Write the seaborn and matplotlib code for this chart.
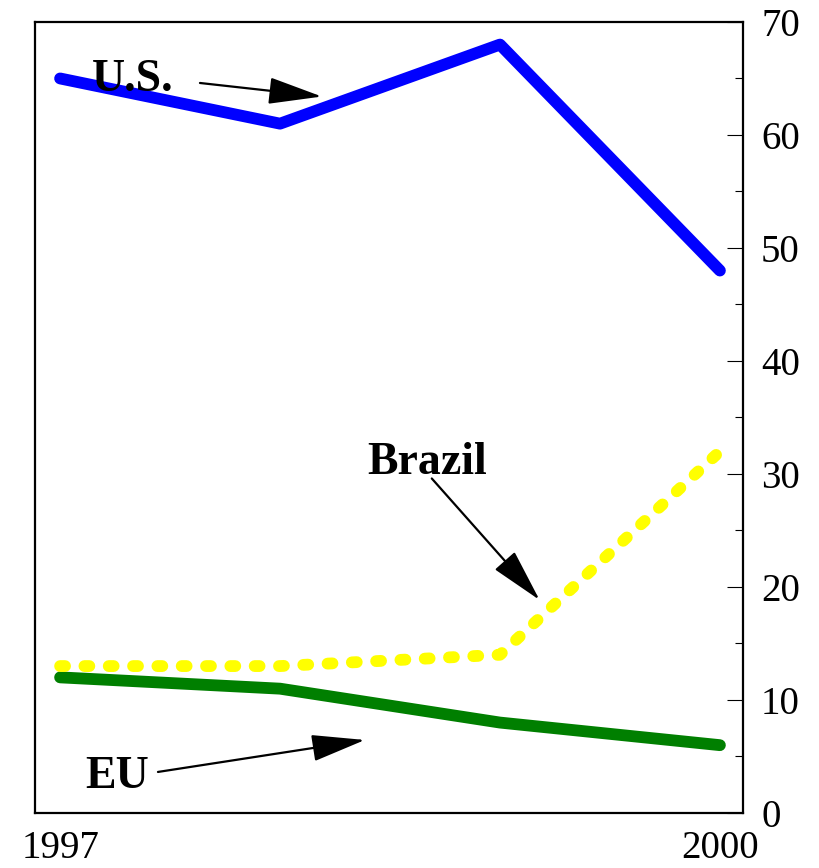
import pandas as pd
import numpy as np
import matplotlib
matplotlib.use("Agg")
import matplotlib.pyplot as plt
import seaborn as sns

# chart data

years = [1997, 1998, 1999, 2000]
us_values = [65, 61, 68, 48]
brazil_values = [13, 13, 14, 32]
eu_values = [12, 11, 8, 6]

sns.set_style("white")
plt.rcParams["font.family"] = ["Liberation Serif", "DejaVu Serif"]
plt.rcParams["text.color"] = "black"
plt.rcParams["xtick.color"] = "black"
plt.rcParams["ytick.color"] = "black"

fig = plt.figure(figsize=(8.2, 8.68), dpi=100)
ax = fig.add_axes([0.0427, 0.0634, 0.8634, 0.9113])

# lines

sns.lineplot(x=years, y=us_values, ax=ax, color="#0000ff", lw=8.5,
             solid_capstyle="round", solid_joinstyle="round")
sns.lineplot(x=years, y=eu_values, ax=ax, color="#007f00", lw=8.5,
             solid_capstyle="round", solid_joinstyle="round")
brazil_line = sns.lineplot(x=years, y=brazil_values, ax=ax, color="#ffff00", lw=8.5)
brazil_line.lines[-1].set_dashes((0.42, 1.64))
brazil_line.lines[-1].set_dash_capstyle("round")
brazil_line.lines[-1].set_dash_joinstyle("round")

# labels with arrows

arrow = dict(arrowstyle="-|>,head_length=2.4,head_width=0.6", mutation_scale=14,
             lw=1.6, color="black", shrinkA=0, shrinkB=0)
label_font = dict(fontsize=33, fontweight="bold", ha="center", va="center",
                  color="black")

ax.text(1997.33, 64.9, "U.S.", **label_font)
ax.annotate("", xy=(1998.19, 63.4), xytext=(1997.636, 64.6), arrowprops=arrow)

ax.text(1998.67, 31.0, "Brazil", **label_font)
ax.annotate("", xy=(1999.18, 18.85), xytext=(1998.69, 29.6), arrowprops=arrow)

ax.text(1997.26, 3.2, "EU", **label_font)
ax.annotate("", xy=(1998.386, 6.46), xytext=(1997.445, 3.63), arrowprops=arrow)

# axes

ax.set_xlim(1996.886, 2000.105)
ax.set_ylim(0, 70)
ax.set_xticks(years)
ax.set_xticklabels(["1997", "", "", "2000"])
ax.set_yticks(range(0, 71, 10))
ax.set_yticks(range(5, 70, 10), minor=True)
ax.yaxis.tick_right()
ax.tick_params(axis="both", which="major", direction="in", length=11.5,
               width=0.8, labelsize=28, color="black", labelcolor="black")
ax.tick_params(axis="y", which="minor", direction="in", length=6,
               width=0.8, color="black", right=True, left=False)
ax.tick_params(axis="y", which="major", pad=13)
ax.tick_params(axis="x", which="major", pad=12)
for spine in ax.spines.values():
    spine.set_visible(True)
    spine.set_color("black")
    spine.set_linewidth(1.6)

fig.savefig("out.png", dpi=100)
